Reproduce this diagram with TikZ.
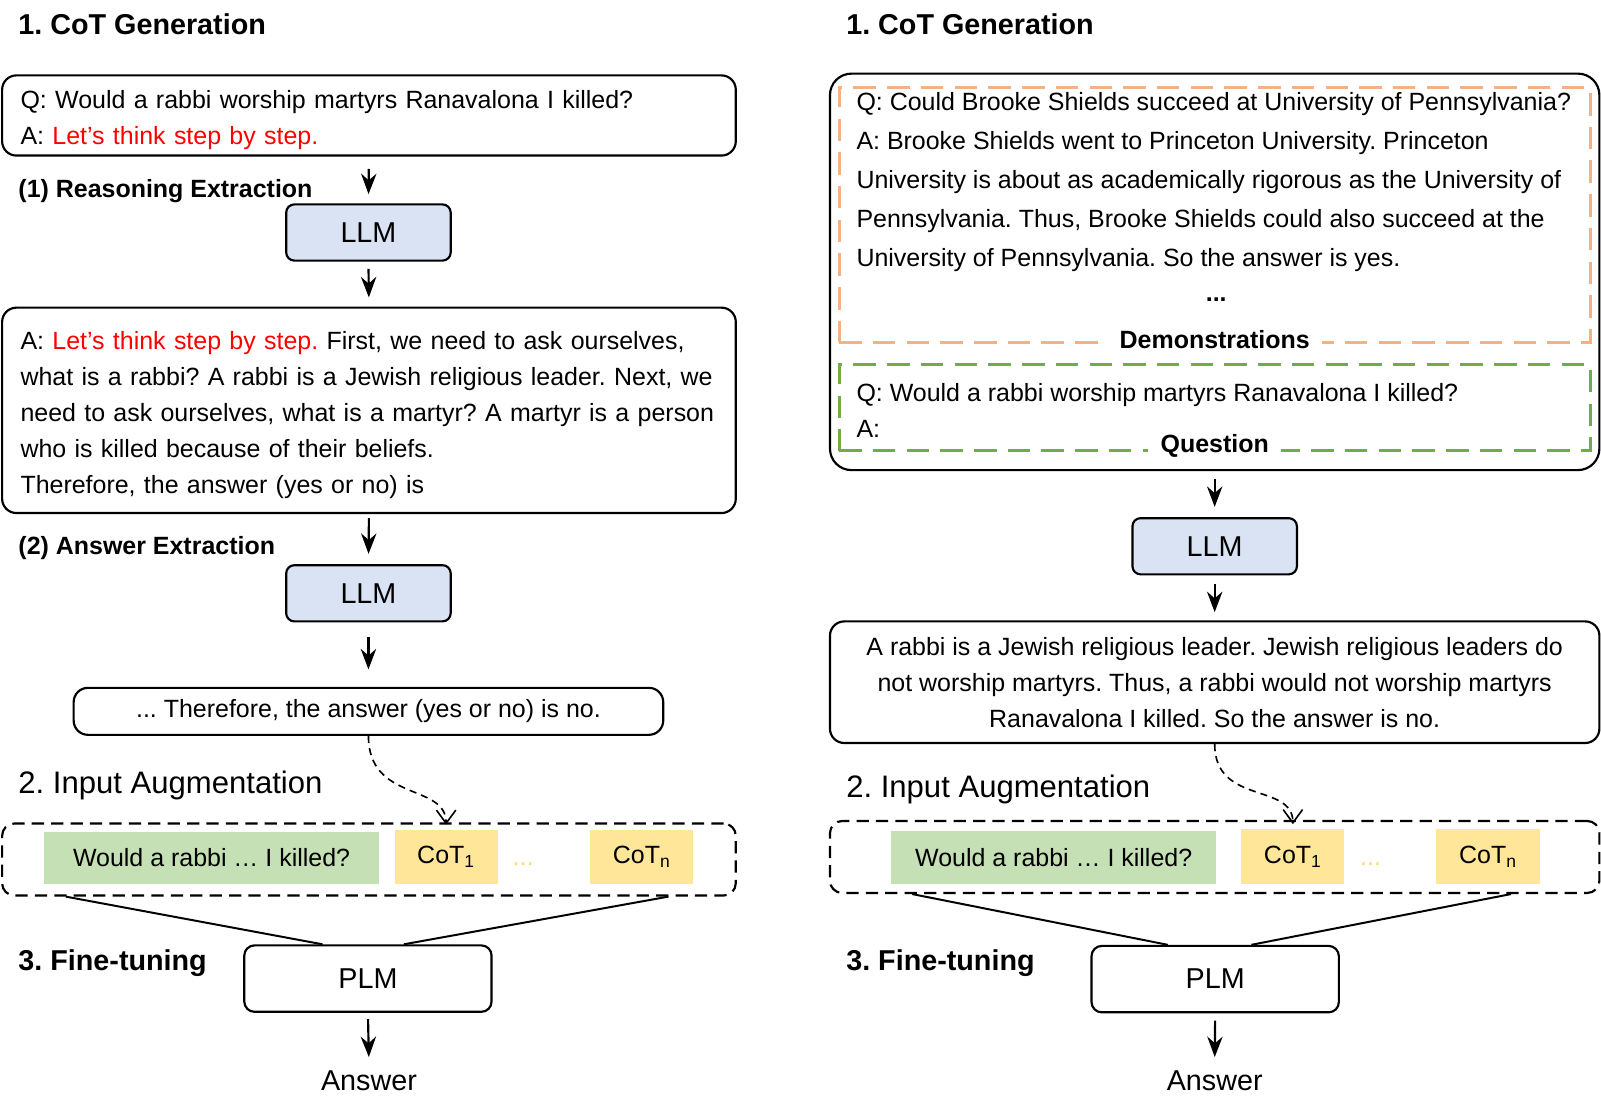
\documentclass[tikz,border=0pt]{standalone}
\usepackage{fontspec}
\setmainfont{Liberation Sans}
\usepackage{xcolor}
\definecolor{llmblue}{HTML}{DAE3F3}
\definecolor{qgreen}{HTML}{C5E0B4}
\definecolor{cotyellow}{HTML}{FFE699}
\definecolor{dotyellow}{HTML}{FFD966}
\definecolor{demoorange}{HTML}{F4B183}
\definecolor{questgreen}{HTML}{70AD47}
\usepackage{tikz}
\usetikzlibrary{arrows.meta}
\usetikzlibrary{positioning}
\usetikzlibrary{calc}
\frenchspacing
\newcommand{\firstline}{\rule{0pt}{15pt}}

\begin{document}
\begin{tikzpicture}[x=0.02cm,y=-0.02cm,line width=1.2pt,
    textbox/.style={draw,rounded corners=0.28cm,font=\fontsize{13.9}{20.1}\selectfont},
    plain/.style={font=\fontsize{13.9}{20.1}\selectfont},
    llm/.style={draw,fill=llmblue,rounded corners=0.16cm,minimum width=3.22cm,minimum height=1.1cm,font=\fontsize{16}{19}\selectfont},
    plm/.style={draw,rounded corners=0.2cm,minimum width=4.84cm,minimum height=1.3cm,font=\fontsize{16}{19}\selectfont},
    heading/.style={anchor=base west,inner sep=0pt,font=\fontsize{16}{19}\selectfont\bfseries},
    augheading/.style={anchor=base west,inner sep=0pt,font=\fontsize{17.3}{20}\selectfont},
    subheading/.style={anchor=base west,inner sep=0pt,font=\fontsize{13.9}{17}\selectfont\bfseries},
    augframe/.style={draw,dash pattern=on 0.24cm off 0.14cm,rounded corners=0.24cm,minimum height=1.41cm},
    inputbox/.style={fill=qgreen,minimum height=1.02cm,font=\fontsize{13.9}{17}\selectfont},
    cotbox/.style={fill=cotyellow,minimum width=2.02cm,minimum height=1.06cm,font=\fontsize{13.9}{17}\selectfont},
    cotdots/.style={text=dotyellow,font=\fontsize{13.9}{17}\selectfont},
    answer/.style={font=\fontsize{16}{19}\selectfont},
    frame/.style={draw,line width=1.7pt,dash pattern=on 0.44cm off 0.22cm,minimum width=14.7cm},
    framelabel/.style={fill=white,inner xsep=0.24cm,inner ysep=1pt,font=\fontsize{13.9}{17}\selectfont\bfseries},
    flow/.style={-{Stealth[length=0.4cm,width=0.3cm]},line width=1.2pt},
    cotflow/.style={-{Straight Barb[length=0.26cm,width=0.38cm]},line width=0.9pt,dash pattern=on 0.14cm off 0.1cm},
    tuneline/.style={line width=1.1pt}]
  \useasboundingbox (0,0) rectangle (1566.5,1082.2);

  % left: zero-shot CoT
  \node[heading] (genL) at (17,34) {1. CoT Generation};
  \node[textbox,minimum width=14.36cm,minimum height=1.52cm,text width=13.64cm,inner xsep=0.36cm,align=left] (queryL) at (361,113)
    {\firstline Q: Would a rabbi worship martyrs Ranavalona I killed?\\
     A: \textcolor{red}{Let’s think step by step.}};
  \node[subheading] (reasonLabel) at (17,193) {(1) Reasoning Extraction};
  \node[llm] (llmReason) at (360.5,227.5) {LLM};
  \node[textbox,minimum width=14.36cm,minimum height=4.02cm,text width=13.64cm,inner xsep=0.36cm,align=left] (reasonL) at (361,401.5)
    {\firstline A: \textcolor{red}{Let’s think step by step.} First, we need to ask ourselves,\\
     what is a rabbi? A rabbi is a Jewish religious leader. Next, we\\
     need to ask ourselves, what is a martyr? A martyr is a person\\
     who is killed because of their beliefs.\\
     Therefore, the answer (yes or no) is};
  \node[subheading] (answerLabel) at (17,543) {(2) Answer Extraction};
  \node[llm] (llmAnswer) at (360.5,580.5) {LLM};
  \node[textbox,minimum width=11.54cm,minimum height=0.92cm] (finalL) at (360.5,696)
    {... Therefore, the answer (yes or no) is no.};

  \node[augheading] (augLabelL) at (17,776) {2. Input Augmentation};
  \node[augframe,minimum width=14.36cm] (augL) at (361,841) {};
  \node[inputbox,minimum width=6.56cm] (inputL) at (207,839.5) {Would a rabbi … I killed?};
  \node[cotbox] (cotLa) at (436.5,838.5) {CoT\textsubscript{1}};
  \node[cotdots] (dotsL) at (512,846) {...};
  \node[cotbox] (cotLn) at (628,838.5) {CoT\textsubscript{n}};

  \node[heading] (tuneL) at (17,950) {3. Fine-tuning};
  \node[plm] (plmL) at (360,957.5) {PLM};
  \node[answer] (outL) at (361,1057) {Answer};

  \draw[flow,shorten <=0.24cm,shorten >=0.18cm] (queryL.south) -- (llmReason.north);
  \draw[flow,shorten <=0.14cm,shorten >=0.18cm] (llmReason.south) -- (reasonL.north);
  \draw[flow,shorten <=0.08cm,shorten >=0.2cm] (reasonL.south) -- (llmAnswer.north);
  \draw[flow,shorten <=0.28cm,shorten >=0.34cm] (llmAnswer.south) -- (finalL.north);
  \draw[cotflow,shorten >=0.08cm] (finalL.south) .. controls +(0,65) and +(0,-45) .. (cotLa.north);
  \draw[tuneline] ($(augL.south west)!0.088!(augL.south east)$) -- ($(plmL.north west)!0.318!(plmL.north east)$);
  \draw[tuneline] ($(augL.south west)!0.907!(augL.south east)$) -- ($(plmL.north west)!0.644!(plmL.north east)$);
  \draw[flow,shorten <=0.12cm,shorten >=0.12cm] (plmL.south) -- (outL.north);

  % right: few-shot CoT
  \node[heading] (genR) at (827,34) {1. CoT Generation};
  \node[draw,rounded corners=0.42cm,minimum width=15.06cm,minimum height=7.76cm] (promptR) at (1188.5,266) {};
  \node[frame,draw=demoorange,minimum height=4.98cm] (demoR) at (1188.5,210.5) {};
  \node[plain,anchor=west,inner sep=0pt,align=left,font=\fontsize{13.9}{21.7}\selectfont] (demoText) at (837,178)
    {Q: Could Brooke Shields succeed at University of Pennsylvania?\\
     A: Brooke Shields went to Princeton University. Princeton\\
     University is about as academically rigorous as the University of\\
     Pennsylvania. Thus, Brooke Shields could also succeed at the\\
     University of Pennsylvania. So the answer is yes.};
  \node[plain,font=\fontsize{13.9}{17}\selectfont\bfseries] (demoDots) at (1190,293) {...};
  \node[framelabel] (demoLabel) at (1188.5,332) {Demonstrations};
  \node[frame,draw=questgreen,minimum height=1.68cm] (questR) at (1188.5,399) {};
  \node[plain,anchor=west,inner sep=0pt,align=left,font=\fontsize{13.9}{19.8}\selectfont] (questText) at (837,401.5)
    {Q: Would a rabbi worship martyrs Ranavalona I killed?\\
     A:};
  \node[framelabel] (questLabel) at (1188.5,436) {Question};
  \node[llm] (llmR) at (1188.5,534.5) {LLM};
  \node[textbox,minimum width=15.06cm,minimum height=2.38cm,align=center] (rationaleR) at (1188.5,667.5)
    {A rabbi is a Jewish religious leader. Jewish religious leaders do\\
     not worship martyrs. Thus, a rabbi would not worship martyrs\\
     Ranavalona I killed. So the answer is no.};

  \node[augheading] (augLabelR) at (827,780) {2. Input Augmentation};
  \node[augframe,minimum width=15.06cm] (augR) at (1188.5,838.5) {};
  \node[inputbox,minimum width=6.36cm] (inputR) at (1031,839) {Would a rabbi … I killed?};
  \node[cotbox] (cotRa) at (1265,838) {CoT\textsubscript{1}};
  \node[cotdots] (dotsR) at (1341,846) {...};
  \node[cotbox] (cotRn) at (1456,838) {CoT\textsubscript{n}};

  \node[heading] (tuneR) at (827,950) {3. Fine-tuning};
  \node[plm] (plmR) at (1189,958) {PLM};
  \node[answer] (outR) at (1188.5,1057) {Answer};

  \draw[flow,shorten <=0.16cm,shorten >=0.2cm] (promptR.south) -- (llmR.north);
  \draw[flow,shorten <=0.16cm,shorten >=0.16cm] (llmR.south) -- (rationaleR.north);
  \draw[cotflow,shorten >=0.08cm] (rationaleR.south) .. controls +(0,60) and +(0,-45) .. (cotRa.north);
  \draw[tuneline] ($(augR.south west)!0.108!(augR.south east)$) -- ($(plmR.north west)!0.31!(plmR.north east)$);
  \draw[tuneline] ($(augR.south west)!0.884!(augR.south east)$) -- ($(plmR.north west)!0.645!(plmR.north east)$);
  \draw[flow,shorten <=0.14cm,shorten >=0.12cm] (plmR.south) -- (outR.north);
\end{tikzpicture}
\end{document}
